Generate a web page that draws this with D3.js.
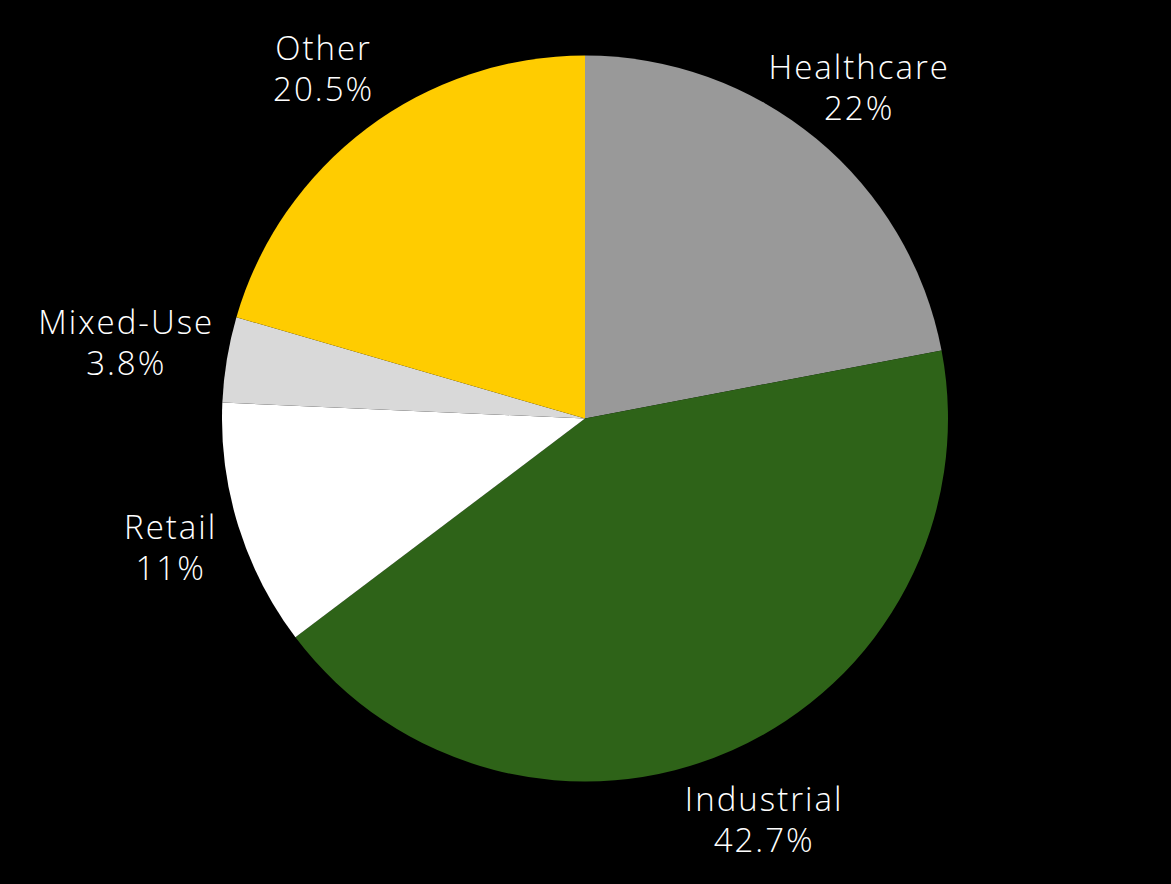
<!DOCTYPE html>
<html>
<head>
<meta charset="utf-8">
<script src="https://cdn.jsdelivr.net/npm/d3@7"></script>
<style>
  html, body { margin: 0; padding: 0; background: #000; }
  svg { display: block; }
</style>
</head>
<body>
<div id="chart"></div>
<script>
const width = 1171
const height = 884

// data, clockwise from 12 o'clock
const sectors = ['Healthcare', 'Industrial', 'Retail', 'Mixed-Use', 'Other']
const shares = [22, 42.7, 11, 3.8, 20.5]
const sectorColors = ['#999999', '#2e6318', '#ffffff', '#d9d9d9', '#ffcc00']

const cx = 585, cy = 418.5, radius = 363
const labelGap = 382          // distance from centre to nearest glyph of a label
const fontSize = 33, lineGap = 41, spacing = 2
const capH = fontSize * 0.7

let svg = d3.select('#chart')
            .append('svg')
            .attr('width', width)
            .attr('height', height)

svg.append('rect')
   .attr('width', width)
   .attr('height', height)
   .attr('fill', '#000')

let rows = sectors.map((s, i) => ({ name: s, value: shares[i], color: sectorColors[i] }))

let pie = d3.pie()
            .sort(null)
            .value(d => d.value)

let arc = d3.arc()
            .innerRadius(0)
            .outerRadius(radius)

let g = svg.append('g')
           .attr('transform', 'translate(' + cx + ',' + cy + ')')

let arcs = pie(rows)

g.selectAll('path')
 .data(arcs)
 .enter()
 .append('path')
 .attr('d', arc)
 .attr('fill', d => d.data.color)

let labels = g.selectAll('g.label')
              .data(arcs)
              .enter()
              .append('g')
              .attr('class', 'label')

labels.each(function (d) {
  let lg = d3.select(this)
  let lines = [d.data.name, d.data.value + '%']
  lines.forEach((txt, k) => {
    lg.append('text')
      .attr('text-anchor', 'middle')
      .attr('x', spacing / 2)
      .attr('y', (k - 0.5) * lineGap + capH / 2)
      .attr('fill', '#fff')
      .style('font-family', '"Open Sans", Lato, sans-serif')
      .style('font-weight', 300)
      .style('letter-spacing', spacing + 'px')
      .style('font-size', fontSize + 'px')
      .text(txt)
  })
})

// slide each label out along its mid-angle until the nearest line box sits labelGap away
labels.each(function (d) {
  let mid = (d.startAngle + d.endAngle) / 2
  let dx = Math.sin(mid), dy = -Math.cos(mid)
  let boxes = []
  d3.select(this).selectAll('text').each(function () {
    let b = this.getBBox()
    let base = +this.getAttribute('y')
    boxes.push({ x0: b.x, x1: b.x + b.width - spacing, y0: base - capH, y1: base })
  })
  function clearance(rr) {
    let px = dx * rr, py = dy * rr
    return d3.min(boxes, b => {
      let nx = Math.max(px + b.x0, Math.min(0, px + b.x1))
      let ny = Math.max(py + b.y0, Math.min(0, py + b.y1))
      return Math.hypot(nx, ny)
    })
  }
  let r = radius
  while (clearance(r) < labelGap) r += 0.5
  d3.select(this).attr('transform', 'translate(' + (dx * r) + ',' + (dy * r) + ')')
})
</script>
</body>
</html>
